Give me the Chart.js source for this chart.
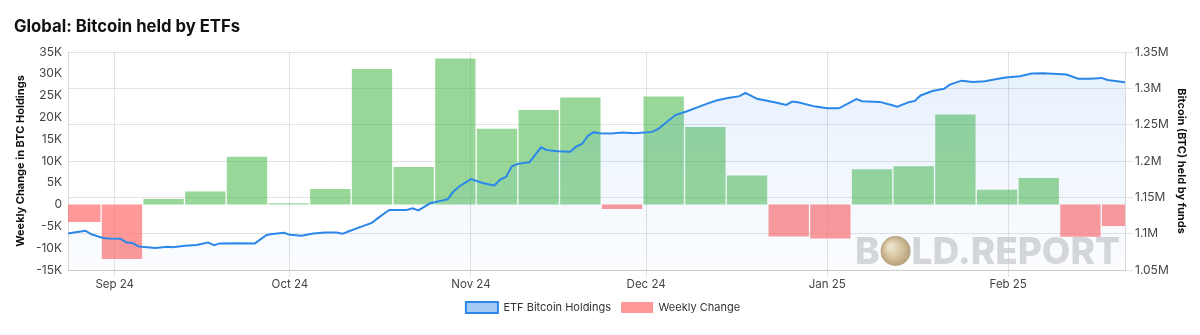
<!DOCTYPE html>
<html>
<head>
<meta charset="utf-8">
<title>Global: Bitcoin held by ETFs</title>
<script src="https://cdn.jsdelivr.net/npm/chart.js@4.4.1/dist/chart.umd.min.js"></script>
<style>
  html, body { margin: 0; padding: 0; background: #ffffff; }
  #wrap { width: 1200px; height: 335px; position: relative; }
</style>
</head>
<body>
<div id="wrap"><canvas id="chart" width="1200" height="335"></canvas></div>
<script>
// Daily total BTC held by spot ETFs (dates and holdings)
const holdDates = [
  '2024-08-24','2024-08-25','2024-08-27','2024-08-28','2024-08-30','2024-08-31',
  '2024-09-02','2024-09-03','2024-09-04','2024-09-05','2024-09-06','2024-09-08',
  '2024-09-10','2024-09-11','2024-09-13','2024-09-15','2024-09-17','2024-09-18',
  '2024-09-19','2024-09-22','2024-09-25','2024-09-27','2024-09-28','2024-09-30',
  '2024-10-01','2024-10-03','2024-10-05','2024-10-07','2024-10-09','2024-10-10',
  '2024-10-11','2024-10-13','2024-10-15','2024-10-16','2024-10-18','2024-10-21',
  '2024-10-22','2024-10-23','2024-10-25','2024-10-27','2024-10-28','2024-10-29',
  '2024-10-30','2024-11-01','2024-11-03','2024-11-05','2024-11-06','2024-11-07',
  '2024-11-08','2024-11-09','2024-11-11','2024-11-13','2024-11-14','2024-11-16',
  '2024-11-18','2024-11-19','2024-11-20','2024-11-21','2024-11-22','2024-11-23',
  '2024-11-25','2024-11-27','2024-11-29','2024-12-02','2024-12-03','2024-12-06',
  '2024-12-08','2024-12-11','2024-12-13','2024-12-15','2024-12-17','2024-12-18',
  '2024-12-20','2024-12-23','2024-12-25','2024-12-26','2024-12-27','2024-12-30',
  '2025-01-01','2025-01-03','2025-01-06','2025-01-07','2025-01-10','2025-01-12',
  '2025-01-13','2025-01-15','2025-01-16','2025-01-17','2025-01-19','2025-01-21',
  '2025-01-22','2025-01-24','2025-01-26','2025-01-28','2025-01-31','2025-02-01',
  '2025-02-03','2025-02-05','2025-02-07','2025-02-11','2025-02-13','2025-02-15',
  '2025-02-17','2025-02-18','2025-02-19','2025-02-21'
];
const holdValues = [
  1100100,1101500,1104000,1099100,1094000,1093500,
  1093100,1087900,1087300,1082800,1081500,1080300,
  1082000,1081300,1083400,1084500,1087700,1084200,
  1086600,1086900,1086600,1098200,1099500,1101200,
  1098400,1097000,1100100,1101500,1101500,1099800,
  1103000,1109100,1114800,1121000,1132500,1132500,
  1134900,1132100,1141800,1145500,1147400,1158000,
  1164900,1175200,1169700,1166300,1174300,1178000,
  1192800,1196100,1198300,1218800,1215000,1213600,
  1212800,1219800,1223400,1234500,1239700,1238300,
  1237900,1239200,1238300,1240100,1243800,1263300,
  1268500,1277700,1283200,1286600,1289300,1293900,
  1285600,1281000,1277200,1281800,1281000,1274900,
  1272800,1272600,1285200,1282400,1281400,1277200,
  1274900,1281000,1282800,1290200,1296300,1299500,
  1305100,1310600,1308800,1309700,1314400,1315200,
  1316600,1320400,1320800,1319000,1313400,1313400,
  1314400,1311600,1310600,1308300
];

// Net weekly change in BTC holdings
const weekLabels = [
  'Aug 26','Sep 2','Sep 9','Sep 16','Sep 23','Sep 30','Oct 7','Oct 14','Oct 21',
  'Oct 28','Nov 4','Nov 11','Nov 18','Nov 25','Dec 2','Dec 9','Dec 16','Dec 23',
  'Dec 30','Jan 6','Jan 13','Jan 20','Jan 27','Feb 3','Feb 10','Feb 17'
];
const weeklyChange = [
  -4000,-12500,1300,3000,11000,300,3600,31100,8600,
  33500,17400,21700,24600,-1000,24800,17800,6700,-7300,
  -7800,8100,8800,20700,3400,6100,-7400,-4900
];

// Month ticks on the date axis
const monthTicks  = ['2024-09-01','2024-10-01','2024-11-01','2024-12-01','2025-01-01','2025-02-01'];
const monthLabels = ['Sep 24','Oct 24','Nov 24','Dec 24','Jan 25','Feb 25'];

const DAY = 86400000;
const origin = Date.parse('2024-09-01');
const dayOf = d => Math.round((Date.parse(d) - origin) / DAY);

const FONT = 'Inter, "Noto Sans", "DejaVu Sans", sans-serif';
const LINE_COLOR = '#2b87ea';
const GREEN = 'rgba(60, 180, 60, 0.53)';
const RED = 'rgba(255, 99, 99, 0.65)';
const GRID = 'rgba(0, 0, 0, 0.11)';

// Light watermark drawn behind the data
const watermark = {
  id: 'watermark',
  beforeDatasetsDraw(chart) {
    const { ctx, chartArea } = chart;
    ctx.save();
    const base = chartArea.bottom - 6;
    const right = chartArea.right - 5;
    ctx.font = `800 37px ${FONT}`;
    ctx.fillStyle = 'rgba(200, 200, 200, 0.7)';
    ctx.textBaseline = 'alphabetic';
    const tail = 'LD.REPORT';
    const tailW = ctx.measureText(tail).width;
    const bW = ctx.measureText('B').width;
    const coinR = 15;
    const tailX = right - tailW;
    const coinX = tailX - coinR - 1;
    const bX = coinX - coinR - 1 - bW;
    ctx.fillText('B', bX, base);
    ctx.fillText(tail, tailX, base);
    const cy = base - 13;
    const g = ctx.createRadialGradient(coinX - 5, cy - 5, 2, coinX, cy, coinR);
    g.addColorStop(0, 'rgba(240, 228, 195, 0.9)');
    g.addColorStop(0.6, 'rgba(210, 185, 140, 0.9)');
    g.addColorStop(1, 'rgba(175, 150, 105, 0.9)');
    ctx.beginPath();
    ctx.arc(coinX, cy, coinR, 0, Math.PI * 2);
    ctx.fillStyle = g;
    ctx.fill();
    ctx.restore();
  }
};

const ctx = document.getElementById('chart').getContext('2d');

new Chart(ctx, {
  type: 'bar',
  data: {
    datasets: [
      {
        type: 'line',
        label: 'ETF Bitcoin Holdings',
        data: holdDates.map((d, i) => ({ x: dayOf(d), y: holdValues[i] })),
        xAxisID: 'x',
        yAxisID: 'y1',
        borderColor: LINE_COLOR,
        borderWidth: 2,
        pointRadius: 0,
        tension: 0,
        fill: 'start',
        backgroundColor(context) {
          const area = context.chart.chartArea;
          if (!area) return 'rgba(54, 140, 235, 0.08)';
          const g = context.chart.ctx.createLinearGradient(0, area.top, 0, area.bottom);
          g.addColorStop(0, 'rgba(54, 140, 235, 0.13)');
          g.addColorStop(1, 'rgba(54, 140, 235, 0.02)');
          return g;
        }
      },
      {
        type: 'bar',
        label: 'Weekly Change',
        data: weeklyChange.map((v, i) => ({ x: i, y: v, week: weekLabels[i] })),
        xAxisID: 'xw',
        yAxisID: 'y',
        backgroundColor: c => (c.raw && c.raw.y < 0 ? RED : GREEN),
        borderWidth: 0,
        grouped: false,
        barPercentage: 1,
        categoryPercentage: 0.968
      }
    ]
  },
  options: {
    responsive: false,
    animation: false,
    devicePixelRatio: 1,
    layout: { padding: { left: 14, right: 8, top: 0, bottom: 12 } },
    plugins: {
      title: {
        display: true,
        text: 'Global: Bitcoin held by ETFs',
        align: 'start',
        color: '#111',
        font: { family: FONT, size: 16.7, weight: '700' },
        padding: { top: 17, bottom: 15 }
      },
      legend: {
        position: 'bottom',
        labels: {
          color: '#333',
          font: { family: FONT, size: 11 },
          boxWidth: 32,
          boxHeight: 11,
          padding: 10,
          generateLabels(chart) {
            const items = Chart.defaults.plugins.legend.labels.generateLabels(chart);
            items[0].fillStyle = 'rgba(54, 140, 235, 0.45)';
            items[0].strokeStyle = LINE_COLOR;
            items[0].lineWidth = 2;
            items[1].fillStyle = RED;
            items[1].lineWidth = 0;
            return items;
          }
        }
      },
      tooltip: { enabled: false }
    },
    scales: {
      x: {
        type: 'linear',
        position: 'bottom',
        offset: false,
        min: dayOf(holdDates[0]),
        max: dayOf(holdDates[holdDates.length - 1]),
        afterBuildTicks(scale) {
          scale.ticks = monthTicks.map(d => ({ value: dayOf(d) }));
        },
        afterFit(scale) { scale.height = 22; },
        ticks: {
          color: '#444',
          font: { family: FONT, size: 11.5 },
          padding: 1,
          maxRotation: 0,
          autoSkip: false,
          callback: (v, i) => monthLabels[i]
        },
        grid: { color: GRID, tickLength: 7, drawOnChartArea: true, offset: false },
        border: { display: true, color: GRID }
      },
      xw: {
        type: 'linear',
        display: false,
        offset: false,
        min: -0.295,
        max: 25.07,
        afterBuildTicks(scale) {
          scale.ticks = weeklyChange.map((v, i) => ({ value: i }));
        },
        grid: { display: false, offset: false }
      },
      y: {
        type: 'linear',
        position: 'left',
        min: -15000,
        max: 35000,
        afterFit(scale) { scale.width = 54; },
        ticks: {
          stepSize: 5000,
          color: '#444',
          font: { family: FONT, size: 12 },
          padding: 6,
          callback: v => (v === 0 ? '0' : (v / 1000) + 'K')
        },
        grid: { display: false, drawTicks: false },
        border: { display: true, color: 'rgba(0,0,0,0.15)' },
        title: {
          display: true,
          text: 'Weekly Change in BTC Holdings',
          color: '#111',
          font: { family: FONT, size: 11, weight: '700' },
          padding: { top: 0, bottom: 4 }
        }
      },
      y1: {
        type: 'linear',
        position: 'right',
        min: 1050000,
        max: 1350000,
        afterFit(scale) { scale.width = 67; },
        ticks: {
          stepSize: 50000,
          color: '#444',
          font: { family: FONT, size: 12 },
          padding: 2,
          callback: v => (v / 1e6) + 'M'
        },
        grid: { color: GRID, tickLength: 8 },
        border: { display: true, color: 'rgba(0,0,0,0.15)' },
        title: {
          display: true,
          text: 'Bitcoin (BTC) held by funds',
          color: '#111',
          font: { family: FONT, size: 11, weight: '700' },
          padding: { top: 4, bottom: 0 }
        }
      }
    }
  },
  plugins: [watermark]
});
</script>
</body>
</html>
